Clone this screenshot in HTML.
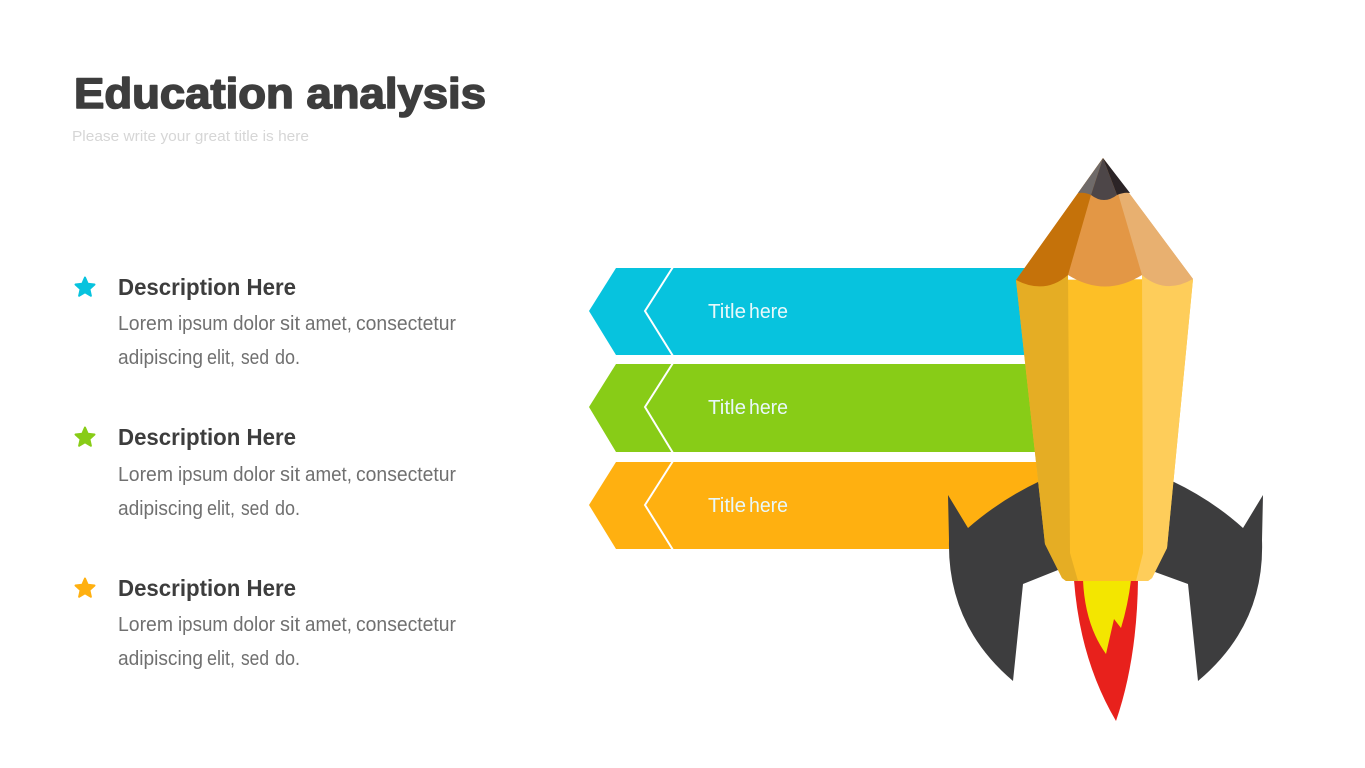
<!DOCTYPE html>
<html><head><meta charset="utf-8"><title>Education analysis</title>
<style>html,body{margin:0;padding:0;background:#fff}svg{display:block}text{font-family:"Liberation Sans",sans-serif}</style></head>
<body>
<svg width="1365" height="768" viewBox="0 0 1365 768" xmlns="http://www.w3.org/2000/svg">
<rect width="1365" height="768" fill="#fff"/>
<text x="74" y="108" font-size="43" font-weight="700" fill="#3d3d3d" stroke="#3d3d3d" stroke-width="1.6" stroke-linejoin="round" textLength="412" lengthAdjust="spacingAndGlyphs">Education analysis</text>
<text x="72" y="141" font-size="15" fill="#d6d6d6" textLength="237" lengthAdjust="spacingAndGlyphs">Please write your great title is here</text>

<g id="stars" stroke-width="2" stroke-linejoin="round">
<polygon fill="#07c3de" stroke="#07c3de" points="85,277.500 87.700,283.800 94.500,284.500 89.400,289.100 90.900,295.800 85,292.300 79.100,295.800 80.600,289.100 75.500,284.500 82.300,283.800"/>
<polygon fill="#88cc17" stroke="#88cc17" points="85,427.500 87.700,433.800 94.500,434.500 89.400,439.100 90.900,445.800 85,442.300 79.100,445.800 80.600,439.100 75.500,434.500 82.300,433.800"/>
<polygon fill="#ffb010" stroke="#ffb010" points="85,578.500 87.700,584.800 94.500,585.500 89.400,590.100 90.900,596.800 85,593.300 79.100,596.800 80.600,590.100 75.500,585.500 82.300,584.800"/>
</g>

<g font-size="23" font-weight="700" fill="#3d3d3d">
<text x="118" y="295" textLength="178" lengthAdjust="spacingAndGlyphs">Description Here</text>
<text x="118" y="445" textLength="178" lengthAdjust="spacingAndGlyphs">Description Here</text>
<text x="118" y="596" textLength="178" lengthAdjust="spacingAndGlyphs">Description Here</text>
</g>
<g font-size="20" fill="#707070">
<g>
<text x="118" y="330" textLength="55" lengthAdjust="spacingAndGlyphs">Lorem</text><text x="178" y="330" textLength="50" lengthAdjust="spacingAndGlyphs">ipsum</text><text x="233" y="330" textLength="42" lengthAdjust="spacingAndGlyphs">dolor</text><text x="280" y="330" textLength="20" lengthAdjust="spacingAndGlyphs">sit</text><text x="305" y="330" textLength="47" lengthAdjust="spacingAndGlyphs">amet,</text><text x="356" y="330" textLength="100" lengthAdjust="spacingAndGlyphs">consectetur</text>
<text x="118" y="364" textLength="85" lengthAdjust="spacingAndGlyphs">adipiscing</text><text x="207" y="364" textLength="28" lengthAdjust="spacingAndGlyphs">elit,</text><text x="241" y="364" textLength="28" lengthAdjust="spacingAndGlyphs">sed</text><text x="275" y="364" textLength="25" lengthAdjust="spacingAndGlyphs">do.</text>
</g>
<g transform="translate(0,151)">
<text x="118" y="330" textLength="55" lengthAdjust="spacingAndGlyphs">Lorem</text><text x="178" y="330" textLength="50" lengthAdjust="spacingAndGlyphs">ipsum</text><text x="233" y="330" textLength="42" lengthAdjust="spacingAndGlyphs">dolor</text><text x="280" y="330" textLength="20" lengthAdjust="spacingAndGlyphs">sit</text><text x="305" y="330" textLength="47" lengthAdjust="spacingAndGlyphs">amet,</text><text x="356" y="330" textLength="100" lengthAdjust="spacingAndGlyphs">consectetur</text>
<text x="118" y="364" textLength="85" lengthAdjust="spacingAndGlyphs">adipiscing</text><text x="207" y="364" textLength="28" lengthAdjust="spacingAndGlyphs">elit,</text><text x="241" y="364" textLength="28" lengthAdjust="spacingAndGlyphs">sed</text><text x="275" y="364" textLength="25" lengthAdjust="spacingAndGlyphs">do.</text>
</g>
<g transform="translate(0,301)">
<text x="118" y="330" textLength="55" lengthAdjust="spacingAndGlyphs">Lorem</text><text x="178" y="330" textLength="50" lengthAdjust="spacingAndGlyphs">ipsum</text><text x="233" y="330" textLength="42" lengthAdjust="spacingAndGlyphs">dolor</text><text x="280" y="330" textLength="20" lengthAdjust="spacingAndGlyphs">sit</text><text x="305" y="330" textLength="47" lengthAdjust="spacingAndGlyphs">amet,</text><text x="356" y="330" textLength="100" lengthAdjust="spacingAndGlyphs">consectetur</text>
<text x="118" y="364" textLength="85" lengthAdjust="spacingAndGlyphs">adipiscing</text><text x="207" y="364" textLength="28" lengthAdjust="spacingAndGlyphs">elit,</text><text x="241" y="364" textLength="28" lengthAdjust="spacingAndGlyphs">sed</text><text x="275" y="364" textLength="25" lengthAdjust="spacingAndGlyphs">do.</text>
</g>
</g>

<g id="banners">
<polygon fill="#07c3de" points="616,268 1060,268 1060,355 616,355 589,311"/>
<polyline fill="none" stroke="#fff" stroke-width="2" points="673,267 645,311 673,356"/>
<polygon fill="#88cc17" points="616,364 1060,364 1060,452 616,452 589,407"/>
<polyline fill="none" stroke="#fff" stroke-width="2" points="673,363 645,407 673,453"/>
<polygon fill="#ffb010" points="616,462 1060,462 1060,549 616,549 589,505"/>
<polyline fill="none" stroke="#fff" stroke-width="2" points="673,461 645,505 673,550"/>
<g font-size="20" fill="#e8f8fa">
<text x="708" y="318" textLength="38" lengthAdjust="spacingAndGlyphs">Title</text><text x="749" y="318" textLength="39" lengthAdjust="spacingAndGlyphs">here</text>
<text x="708" y="414" textLength="38" lengthAdjust="spacingAndGlyphs">Title</text><text x="749" y="414" textLength="39" lengthAdjust="spacingAndGlyphs">here</text>
<text x="708" y="512" textLength="38" lengthAdjust="spacingAndGlyphs">Title</text><text x="749" y="512" textLength="39" lengthAdjust="spacingAndGlyphs">here</text>
</g>
</g>

<g id="rocket">
<path fill="#3d3d3e" d="M948,495 L968,528 Q1000,500 1040,481 L1070,560 L1058,570 L1023,584 L1013,681 Q947,625 949,540 Z"/>
<path fill="#3d3d3e" d="M1263,495 L1243,528 Q1212,500 1172,481 L1142,560 L1155,572 L1188,584 L1198,681 Q1265,625 1262,540 Z"/>

<path fill="#e8211c" d="M1074,580 L1138,580 Q1137,660 1116,721 Q1080,660 1074,580 Z"/>
<path fill="#f3e600" d="M1083,580 L1131,580 Q1128,605 1121,628 L1114,619 L1106,654 Q1085,625 1083,580 Z"/>

<path fill="#fdbf26" d="M1016,280 L1193,279 L1167,548 L1152,578 L1148,581 L1066,581 L1062,578 L1045,544 Z"/>
<path fill="#e5ad24" d="M1016,280 L1068,272 L1070,553 L1078,581 L1066,581 L1062,578 L1045,544 Z"/>
<path fill="#fecd5a" d="M1193,279 L1142,272 L1143,553 L1136,581 L1148,581 L1152,578 L1167,548 Z"/>

<path fill="#e39745" d="M1103,158 L1193,279 L1142,275 Q1105,298 1068,275 L1016,280 Z"/>
<path fill="#c5720a" d="M1016,280 L1103,158 L1091,195 L1068,275 Q1045,295 1016,280 Z"/>
<path fill="#e8b070" d="M1103,158 L1193,279 Q1165,295 1142,275 L1117,190 Z"/>

<path fill="#6f6a69" d="M1103,158 L1078,193 Q1085,192 1091,195 Z"/>
<path fill="#4d4648" d="M1103,158 L1091,195 Q1104,205 1117,195 Z"/>
<path fill="#2b2426" d="M1103,158 L1117,195 Q1124,192 1130,193 Z"/>
</g>
</svg>
</body></html>
